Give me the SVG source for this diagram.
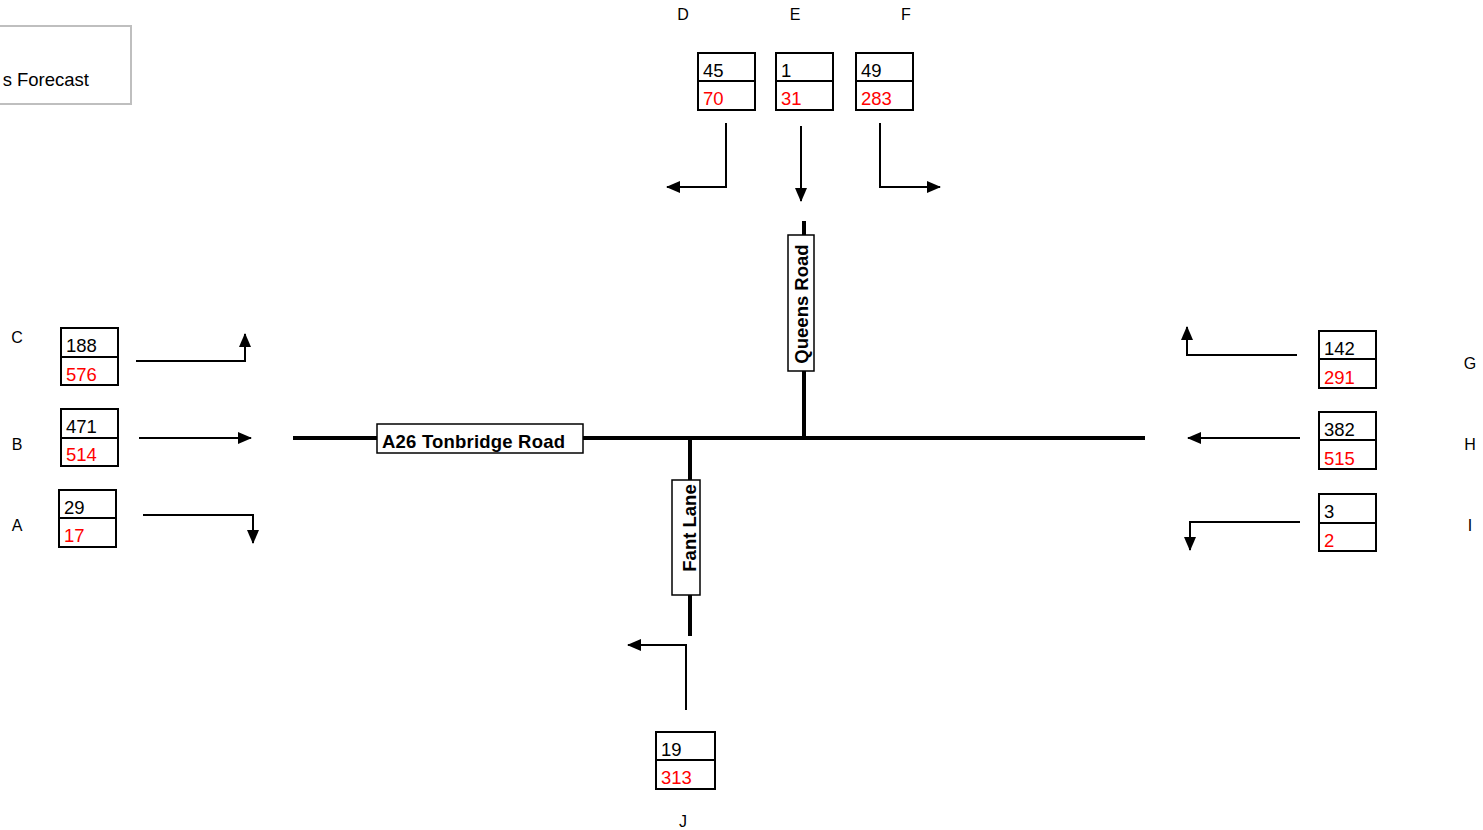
<svg xmlns="http://www.w3.org/2000/svg" width="1483" height="830" viewBox="0 0 1483 830">
<style>
.bx{fill:#fff;stroke:#000;stroke-width:2}
.dv{stroke:#000;stroke-width:2}
.t{font-family:"Liberation Sans",Arial,sans-serif;font-size:18.5px;fill:#000}
.r{fill:#ff0000}
.lb{font-family:"Liberation Sans",Arial,sans-serif;font-size:16px;fill:#000;text-anchor:middle}
.rd{stroke:#000;stroke-width:4;fill:none}
.ar{stroke:#000;stroke-width:2;fill:none}
.rl{fill:#fff;stroke:#000;stroke-width:1.5}
.rt{font-family:"Liberation Sans",Arial,sans-serif;font-size:18.5px;font-weight:bold;fill:#000}
</style>
<defs>
<marker id="ah" markerUnits="userSpaceOnUse" markerWidth="14" markerHeight="14" viewBox="0 0 14 14" refX="13" refY="7" orient="auto">
<path d="M0,1 L14,7 L0,13 Z" fill="#000"/>
</marker>
</defs>
<rect width="1483" height="830" fill="#fff"/>
<g id="title">
<rect x="-5" y="26" width="136" height="78" fill="#fff" stroke="#bfbfbf" stroke-width="2"/>
<text class="t" x="89" y="86" text-anchor="end" font-size="21">s Forecast</text>
</g>
<g id="roads">
<line class="rd" x1="293" y1="438" x2="1145" y2="438"/>
<line class="rd" x1="804" y1="221" x2="804" y2="438"/>
<line class="rd" x1="690" y1="438" x2="690" y2="636"/>
</g>
<g id="road-labels">
<rect class="rl" x="377" y="424" width="206" height="29"/>
<text class="rt" x="382" y="448" textLength="183">A26 Tonbridge Road</text>
<rect class="rl" x="788" y="235" width="26" height="136"/>
<text class="rt" transform="translate(808,304) rotate(-90)" text-anchor="middle">Queens Road</text>
<rect class="rl" x="672" y="480" width="28" height="115"/>
<text class="rt" transform="translate(696,528) rotate(-90)" text-anchor="middle">Fant Lane</text>
</g>
<g id="connectors">
<polyline class="ar" points="726,123 726,187 667,187" marker-end="url(#ah)"/>
<polyline class="ar" points="801,126 801,201" marker-end="url(#ah)"/>
<polyline class="ar" points="880,123 880,187 940,187" marker-end="url(#ah)"/>
<polyline class="ar" points="686,710 686,645 628,645" marker-end="url(#ah)"/>
<polyline class="ar" points="136,361 245,361 245,334" marker-end="url(#ah)"/>
<polyline class="ar" points="139,438 251,438" marker-end="url(#ah)"/>
<polyline class="ar" points="143,515 253,515 253,543" marker-end="url(#ah)"/>
<polyline class="ar" points="1297,355 1187,355 1187,327" marker-end="url(#ah)"/>
<polyline class="ar" points="1300,438 1188,438" marker-end="url(#ah)"/>
<polyline class="ar" points="1300,522 1190,522 1190,550" marker-end="url(#ah)"/>
</g>
<g id="node-D">
<text class="lb" x="683" y="20">D</text>
<rect class="bx" x="698" y="53" width="57" height="57"/>
<line class="dv" x1="698" y1="81" x2="755" y2="81"/>
<text class="t" x="703" y="77">45</text>
<text class="t r" x="703" y="105">70</text>
</g>
<g id="node-E">
<text class="lb" x="795" y="20">E</text>
<rect class="bx" x="776" y="53" width="57" height="57"/>
<line class="dv" x1="776" y1="81" x2="833" y2="81"/>
<text class="t" x="781" y="77">1</text>
<text class="t r" x="781" y="105">31</text>
</g>
<g id="node-F">
<text class="lb" x="906" y="20">F</text>
<rect class="bx" x="856" y="53" width="57" height="57"/>
<line class="dv" x1="856" y1="81" x2="913" y2="81"/>
<text class="t" x="861" y="77">49</text>
<text class="t r" x="861" y="105">283</text>
</g>
<g id="node-C">
<text class="lb" x="17" y="343">C</text>
<rect class="bx" x="61" y="328" width="57" height="57"/>
<line class="dv" x1="61" y1="357" x2="118" y2="357"/>
<text class="t" x="66" y="352">188</text>
<text class="t r" x="66" y="381">576</text>
</g>
<g id="node-B">
<text class="lb" x="17" y="450">B</text>
<rect class="bx" x="61" y="409" width="57" height="57"/>
<line class="dv" x1="61" y1="438" x2="118" y2="438"/>
<text class="t" x="66" y="433">471</text>
<text class="t r" x="66" y="461">514</text>
</g>
<g id="node-A">
<text class="lb" x="17" y="531">A</text>
<rect class="bx" x="59" y="490" width="57" height="57"/>
<line class="dv" x1="59" y1="518" x2="116" y2="518"/>
<text class="t" x="64" y="514">29</text>
<text class="t r" x="64" y="542">17</text>
</g>
<g id="node-G">
<text class="lb" x="1470" y="369">G</text>
<rect class="bx" x="1319" y="331" width="57" height="57"/>
<line class="dv" x1="1319" y1="359" x2="1376" y2="359"/>
<text class="t" x="1324" y="355">142</text>
<text class="t r" x="1324" y="384">291</text>
</g>
<g id="node-H">
<text class="lb" x="1470" y="450">H</text>
<rect class="bx" x="1319" y="412" width="57" height="57"/>
<line class="dv" x1="1319" y1="440" x2="1376" y2="440"/>
<text class="t" x="1324" y="436">382</text>
<text class="t r" x="1324" y="465">515</text>
</g>
<g id="node-I">
<text class="lb" x="1470" y="531">I</text>
<rect class="bx" x="1319" y="494" width="57" height="57"/>
<line class="dv" x1="1319" y1="523" x2="1376" y2="523"/>
<text class="t" x="1324" y="518">3</text>
<text class="t r" x="1324" y="547">2</text>
</g>
<g id="node-J">
<text class="lb" x="683" y="827">J</text>
<rect class="bx" x="656" y="732" width="59" height="57"/>
<line class="dv" x1="656" y1="760" x2="715" y2="760"/>
<text class="t" x="661" y="756">19</text>
<text class="t r" x="661" y="784">313</text>
</g>
</svg>
